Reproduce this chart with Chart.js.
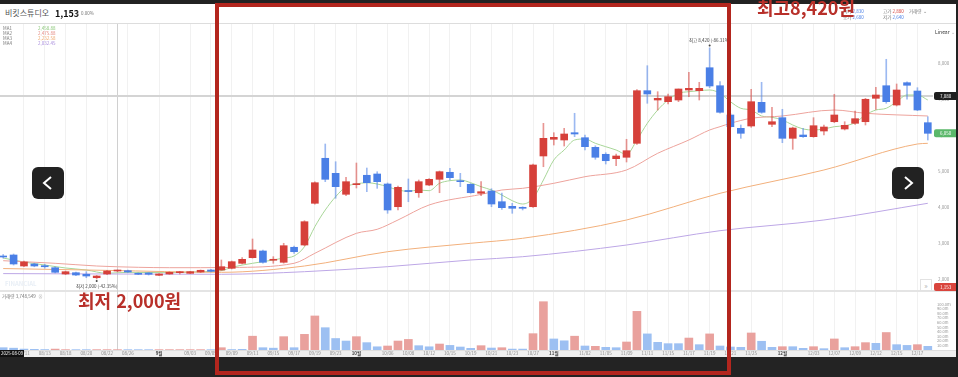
<!DOCTYPE html>
<html lang="ko">
<head>
<meta charset="utf-8">
<script src="https://cdn.jsdelivr.net/npm/chart.js@4.4.1/dist/chart.umd.min.js"></script>
<style>
  html, body { margin: 0; padding: 0; width: 958px; height: 377px; overflow: hidden; background: #fff;
    font-family: "Noto Sans CJK KR", "Noto Sans", sans-serif; }
  .abs { position: absolute; white-space: nowrap; }
  #topbar { left: 0; top: 0; width: 958px; height: 4px; background: #222; }
  #header { left: 0; top: 4px; width: 958px; height: 19px; background: #fff; border-bottom: 1px solid #ddd; }
  #chartWrap { position: absolute; left: -2px; top: 24px; }
  .tiny { font-size: 4.5px; line-height: 5px; color: #777; }
  .nav { position: absolute; width: 32px; height: 32px; background: #222; border-radius: 6px; z-index: 5; }
  #redBox { position: absolute; left: 215px; top: 3px; width: 516px; height: 372px; box-sizing: border-box;
    border: 4px solid #b3261e; z-index: 6; }
  .big { position: absolute; font-weight: bold; font-size: 18px; line-height: 18px; color: #b8302a; z-index: 7; white-space: nowrap; }
  #bottom { left: 0; top: 357px; width: 958px; height: 20px; background: #232323; z-index: 3; }
  #rightEdge { left: 956px; top: 0; width: 2px; height: 377px; background: #222; z-index: 3; }
</style>
</head>
<body>
<div id="topbar" class="abs"></div>
<div id="header" class="abs"></div>
<div class="abs" style="left:5px;top:8px;font-size:8px;line-height:10px;color:#555;z-index:2">비킷스튜디오</div>
<div class="abs" style="left:55px;top:8px;font-size:9px;line-height:11px;font-weight:bold;color:#111;z-index:2">1,153</div>
<div class="abs tiny" style="left:76px;top:11px;z-index:2">0&nbsp;&nbsp;0.00%</div>

<div class="abs tiny" style="left:843px;top:9px;z-index:2">시가 <span style="color:#4a7fe6">2,830</span></div>
<div class="abs tiny" style="left:883px;top:9px;z-index:2">고가 <span style="color:#d6403a">2,880</span></div>
<div class="abs tiny" style="left:909px;top:9px;z-index:2">거래량 ⌄</div>
<div class="abs tiny" style="left:843px;top:15px;z-index:2">종가 <span style="color:#4a7fe6">2,680</span></div>
<div class="abs tiny" style="left:883px;top:15px;z-index:2">저가 <span style="color:#4a7fe6">2,640</span></div>

<div id="chartWrap"><canvas id="myChart" width="960" height="333"></canvas></div>

<div class="abs tiny" style="left:3px;top:26px;z-index:2">MA1</div>
<div class="abs tiny" style="left:38px;top:26px;color:#8cc77a;z-index:2">2,458.88</div>
<div class="abs tiny" style="left:3px;top:31px;z-index:2">MA2</div>
<div class="abs tiny" style="left:38px;top:31px;color:#e58a82;z-index:2">2,475.88</div>
<div class="abs tiny" style="left:3px;top:36px;z-index:2">MA3</div>
<div class="abs tiny" style="left:38px;top:36px;color:#eea56a;z-index:2">2,232.58</div>
<div class="abs tiny" style="left:3px;top:41px;z-index:2">MA4</div>
<div class="abs tiny" style="left:38px;top:41px;color:#a78bdc;z-index:2">2,032.45</div>

<div class="abs" style="left:935px;top:29px;font-size:5px;line-height:6px;color:#333;z-index:2">Linear <span style="color:#aaa">⌄</span></div>
<div class="abs" style="left:5px;top:280px;font-size:6px;line-height:7px;font-weight:bold;color:#e9eff6;z-index:2">FINANCIAL</div>
<div class="abs tiny" style="left:2px;top:294px;z-index:2">거래량 3,748,549 &nbsp;<span style="color:#bbb">⊗</span></div>
<div class="abs" style="left:920px;top:279px;width:10px;height:10px;border:1px solid #e2e2e2;background:#fff;font-size:7px;line-height:10px;text-align:center;color:#aaa;z-index:2">»</div>

<div class="nav" style="left:32px;top:167px"><svg width="32" height="32"><polyline points="19,10 12,16 19,22" fill="none" stroke="#fff" stroke-width="2"/></svg></div>
<div class="nav" style="left:892px;top:167px"><svg width="32" height="32"><polyline points="13,10 20,16 13,22" fill="none" stroke="#fff" stroke-width="2"/></svg></div>

<div id="bottom" class="abs"></div>
<div id="rightEdge" class="abs"></div>
<div id="redBox"></div>
<div class="big" style="left:78px;top:291px">최저 2,000원</div>
<div class="big" style="left:757px;top:-2px">최고8,420원</div>

<script>
// 일봉 시가/고가/저가/종가 (원)
const opens = [
  2639, 2667, 2361, 2417, 2370, 2314, 2139, 2175, 2131, 2036,
  2139, 2222, 2231, 2158, 2167, 2103, 2139, 2175, 2158, 2194,
  2250, 2250, 2297, 2436, 2592, 2778, 2520, 2464, 2881, 2944,
  4103, 5353, 4936, 4353, 4620, 4881, 4917, 4639, 4008, 4450,
  4397, 4611, 4769, 4964, 4710, 4631, 4381, 4444, 4147, 4019,
  3970, 4008, 5417, 5881, 5861, 6064, 5925, 5658, 5464, 5342,
  5381, 5769, 7231, 6972, 6925, 6972, 7250, 7231, 7869, 7369,
  6556, 6186, 6250, 6908, 6297, 6481, 5908, 6000, 5953, 6111,
  6369, 6167, 6325, 6369, 7019, 7369, 6833, 7453, 7222, 6342
];
const highs = [
  2680, 2694, 2500, 2440, 2410, 2340, 2220, 2190, 2203, 2100,
  2240, 2250, 2250, 2170, 2180, 2150, 2200, 2214, 2214, 2250,
  2270, 2528, 2500, 2592, 3111, 2800, 2620, 2992, 2917, 3620,
  4700, 5750, 5258, 4825, 5222, 5083, 4980, 4667, 4583, 4778,
  4750, 4790, 5000, 5075, 4936, 4650, 4703, 4508, 4389, 4103,
  4008, 5190, 6325, 6064, 6186, 6603, 6000, 5700, 5508, 5472,
  5881, 7260, 7925, 7203, 7139, 7278, 7742, 7464, 8420, 7481,
  6600, 6278, 7269, 7464, 6769, 6714, 6220, 6186, 6481, 6278,
  7131, 6369, 6667, 7019, 7325, 8103, 7417, 7480, 7314, 6508
];
const lows = [
  2580, 2389, 2340, 2340, 2300, 2170, 2120, 2090, 2036, 2000,
  2120, 2200, 2180, 2120, 2110, 2090, 2130, 2139, 2150, 2180,
  2200, 2240, 2280, 2420, 2580, 2440, 2436, 2440, 2714, 2920,
  4080, 4703, 4242, 4314, 4528, 4425, 4519, 3825, 3917, 4147,
  4269, 4590, 4397, 4750, 4564, 4381, 4314, 4008, 3936, 3825,
  3917, 3990, 5119, 5722, 5694, 5953, 5583, 5325, 5194, 5147,
  5250, 5740, 6881, 6694, 6861, 6925, 7064, 6972, 7314, 6603,
  6200, 5908, 6214, 6603, 6231, 5786, 5603, 5936, 5936, 6000,
  6342, 6139, 6297, 6278, 6714, 6881, 6806, 6992, 6675, 5861
];
const closes = [
  2611, 2417, 2472, 2361, 2340, 2186, 2203, 2111, 2083, 2083,
  2222, 2236, 2194, 2131, 2131, 2139, 2186, 2180, 2203, 2242,
  2214, 2342, 2481, 2547, 2806, 2464, 2536, 2925, 2758, 3592,
  4675, 4769, 4564, 4703, 4640, 4675, 4703, 3917, 4547, 4430,
  4703, 4769, 4981, 4814, 4703, 4397, 4425, 4083, 3981, 3964,
  3964, 5167, 5908, 5936, 6028, 6028, 5675, 5381, 5286, 5417,
  5564, 7231, 7139, 7019, 7064, 7278, 7297, 7297, 7361, 6631,
  6231, 6047, 6925, 6631, 6369, 5908, 6194, 5953, 6258, 6222,
  6556, 6269, 6453, 6992, 7111, 6925, 7250, 7381, 6694, 6047
];

// 거래량 (백만 주), 막대 색: r = 빨강, b = 파랑
const volumes = [
  5, 4, 2, 1.5, 1, 2, 0.8, 0.8, 0.8, 0.8,
  0.8, 0.8, 0.8, 0.8, 0.8, 0.8, 0.8, 0.8, 0.8, 0.8,
  0.8, 5, 1, 1.5, 30, 5, 4, 29, 5, 34,
  74, 48.5, 25, 19.5, 29, 16, 7, 8.7, 19.5, 23,
  9.4, 7, 13, 10, 6.5, 3.6, 9.4, 4.3, 5, 2,
  2, 35.5, 105, 24, 20, 30, 8.7, 8, 5.8, 5,
  17.4, 84, 35, 16.7, 13.8, 13.8, 26, 11.6, 35, 8.7,
  6.5, 5.8, 37, 19, 5.8, 7.2, 7.2, 3.6, 7.2, 2.9,
  24, 5, 7.2, 16, 14.5, 38, 11.6, 10, 11.6, 8
];
const volumeSide =
  "bbbbbrrbbr" + "rrbbbrrrrr" + "brbbrbbrbr" + "rbbbrbbrrr" + "bbrbbbrbrb" +
  "brrbbrbrbb" + "rrbbbbrbrb" + "bbrbbrbbrb" + "rbrrbrbbrb";

// 이동평균선: [캔들 번호, 값]
const ma1Points = [
  [0, 2583], [2, 2472], [4, 2389], [6, 2306], [8, 2250], [10, 2158], [12, 2186], [16, 2175], [19, 2203],
  [21, 2231], [22, 2325], [24, 2436], [26, 2528], [27, 2583], [28, 2639], [29, 2897],
  [30, 3453], [31, 3917], [32, 4286], [33, 4564], [34, 4639], [35, 4675], [36, 4639], [37, 4564], [38, 4472], [39, 4436],
  [40, 4472], [41, 4453], [42, 4658], [43, 4731], [44, 4750], [45, 4675], [46, 4564], [47, 4472], [48, 4333], [49, 4175],
  [50, 4083], [51, 4242], [52, 4750], [53, 5306], [54, 5583], [55, 5861], [56, 5889], [57, 5769], [58, 5675], [59, 5583],
  [60, 5464], [61, 5861], [62, 6325], [63, 6694], [64, 6972], [65, 7158], [66, 7203], [67, 7231], [68, 7250], [69, 7158],
  [70, 6925], [71, 6742], [72, 6694], [73, 6528], [74, 6492], [75, 6417], [76, 6278], [77, 6167], [78, 6139], [79, 6167],
  [80, 6231], [81, 6258], [82, 6342], [83, 6556], [84, 6694], [85, 6742], [86, 6925], [87, 7111], [88, 7111], [89, 6972]
];
const ma2Points = [
  [0, 2508], [5, 2436], [9, 2361], [13, 2325], [16, 2314], [19, 2314], [22, 2320], [28, 2436], [30, 2714],
  [34, 3269], [36, 3381], [38, 3639], [41, 4056], [46, 4350], [48, 4472], [50, 4519], [53, 4658], [56, 4842],
  [60, 5028], [63, 5492], [66, 5861], [68, 6139], [69, 6231], [70, 6325], [72, 6464], [75, 6528], [80, 6694],
  [83, 6603], [89, 6528]
];
const ma3Points = [
  [0, 2290], [10, 2240], [21, 2186], [29, 2361], [37, 2758], [45, 2992], [50, 3131], [60, 3639],
  [69, 4381], [79, 5028], [88, 5750], [89, 5769]
];
const ma4Points = [
  [0, 2150], [10, 2139], [21, 2131], [29, 2203], [37, 2342], [45, 2528], [50, 2619], [60, 2944],
  [69, 3342], [79, 3639], [89, 4103]
];

// x축 날짜 라벨: [캔들 번호, 글자]
const xTicks = [
  [2, "08/11"], [4, "08/13"], [6, "08/18"], [8, "08/20"], [10, "08/22"], [12, "08/26"], [15, "9월"],
  [18, "09/03"], [20, "09/05"], [22, "09/09"], [24, "09/11"], [26, "09/15"], [28, "09/17"], [30, "09/19"],
  [32, "09/23"], [34, "10월"], [37, "10/06"], [39, "10/08"], [41, "10/12"], [43, "10/15"], [45, "10/19"],
  [47, "10/21"], [49, "10/23"], [51, "10/27"], [53, "11월"], [56, "11/02"], [58, "11/05"], [60, "11/09"],
  [62, "11/11"], [64, "11/15"], [66, "11/17"], [68, "11/19"], [70, "11/21"], [72, "11/25"], [75, "12월"],
  [78, "12/03"], [80, "12/07"], [82, "12/09"], [84, "12/12"], [86, "12/15"], [88, "12/17"]
];
const priceTicks = [2000, 3000, 4000, 5000, 6000, 7000, 8000];
const volumeTicks = [10, 20, 30, 40, 50, 60, 70, 80, 90, 100];

const crossIndex = 11;
const crossPrice = 7080;
const lastPrice = 6050;
const highIndex = 68;
const lowIndex = 9;

const RED = "#d6403a";
const BLUE = "#4a7fe6";

const labels = opens.map(() => "");
xTicks.forEach(([i, t]) => (labels[i] = t));

function toSeries(points) {
  const arr = opens.map(() => null);
  points.forEach(([i, v]) => (arr[i] = v));
  return arr;
}

const isUp = opens.map((o, i) => closes[i] >= o);
const fmt = (v) => v.toLocaleString("en-US");
const FONT = '"Noto Sans CJK KR", "Noto Sans", sans-serif';
Chart.defaults.font.family = FONT;

function tag(ctx, x, y, w, text, bg) {
  ctx.fillStyle = bg;
  ctx.beginPath();
  ctx.roundRect(x, y - 4, w, 8, 2);
  ctx.fill();
  ctx.fillStyle = "#fff";
  ctx.font = "4.5px " + FONT;
  ctx.textAlign = "left";
  ctx.textBaseline = "middle";
  ctx.fillText(text, x + 6, y + 0.5);
}

const overlay = {
  id: "overlay",
  beforeDraw(chart) {
    const { ctx, chartArea: a } = chart;
    ctx.save();
    ctx.fillStyle = "#efefef";
    ctx.fillRect(0, a.bottom, chart.width, chart.height - a.bottom);
    ctx.fillStyle = "#dedede";
    ctx.fillRect(0, a.bottom, chart.width, 1);
    ctx.restore();
  },
  beforeDatasetsDraw(chart) {
    const { ctx, chartArea: a, scales } = chart;
    ctx.save();
    // 가격/거래량 구분선
    ctx.fillStyle = "#e4e4e4";
    ctx.fillRect(0, a.top + 266, chart.width, 2);
    // 십자선
    const cx = Math.round(scales.x.getPixelForValue(crossIndex)) + 0.5;
    ctx.strokeStyle = "#d0d0d0";
    ctx.lineWidth = 1;
    ctx.beginPath();
    ctx.moveTo(cx, a.top);
    ctx.lineTo(cx, a.bottom);
    ctx.stroke();
    const cy = scales.y.getPixelForValue(crossPrice);
    ctx.strokeStyle = "#d4d4d4";
    ctx.lineWidth = 2;
    ctx.beginPath();
    ctx.moveTo(a.left, cy);
    ctx.lineTo(a.right, cy);
    ctx.stroke();
    ctx.restore();
  },
  afterDraw(chart) {
    const { ctx, chartArea: a, scales } = chart;
    ctx.save();
    ctx.font = "4px " + FONT;
    ctx.fillStyle = "#999";
    ctx.textAlign = "left";
    ctx.textBaseline = "middle";
    volumeTicks.forEach((v) => {
      ctx.fillText(v + ".0m", a.right + 4, scales.yv.getPixelForValue(v * 1e6));
    });

    // 최고/최저 표시
    ctx.font = "4.5px " + FONT;
    ctx.fillStyle = "#444";
    ctx.textAlign = "center";
    const hx = scales.x.getPixelForValue(highIndex);
    const hy = scales.y.getPixelForValue(highs[highIndex]);
    ctx.fillText("최고 " + fmt(highs[highIndex]) + " (-86.31%)", hx, hy - 8);
    ctx.beginPath();
    ctx.arc(hx, hy - 2.5, 1, 0, Math.PI * 2);
    ctx.fill();
    const lx = scales.x.getPixelForValue(lowIndex);
    const ly = scales.y.getPixelForValue(lows[lowIndex]);
    ctx.fillText("최저 " + fmt(lows[lowIndex]) + " (-42.35%)", lx, ly + 7);
    ctx.beginPath();
    ctx.arc(lx, ly + 2, 1, 0, Math.PI * 2);
    ctx.fill();

    // 오른쪽 가격 태그
    const tx = a.right + 1;
    const tw = chart.width - tx;
    tag(ctx, tx, scales.y.getPixelForValue(crossPrice), tw, fmt(crossPrice), "#1e1e1e");
    tag(ctx, tx, scales.y.getPixelForValue(lastPrice), tw, fmt(lastPrice), "#5bb86a");
    tag(ctx, tx, a.top + 263, tw, "1,153", "#d9443c");

    // 십자선 날짜
    ctx.fillStyle = "#111";
    ctx.fillRect(2, a.bottom, 24, chart.height - a.bottom);
    ctx.fillStyle = "#fff";
    ctx.font = "4.3px " + FONT;
    ctx.textAlign = "left";
    ctx.fillText("2025-08-09", 3, a.bottom + 3.5);
    ctx.restore();
  }
};

const maStyle = (color) => ({
  type: "line",
  borderColor: color,
  borderWidth: 1,
  pointRadius: 0,
  spanGaps: true,
  cubicInterpolationMode: "monotone",
  order: 2,
  yAxisID: "y"
});

new Chart(document.getElementById("myChart").getContext("2d"), {
  type: "bar",
  data: {
    labels: labels,
    datasets: [
      {
        label: "거래량",
        data: volumes.map((v) => v * 1e6),
        backgroundColor: volumes.map((_, i) => (volumeSide[i] === "r" ? "#e9a19d" : "#9dc0f2")),
        barThickness: 8,
        grouped: false,
        order: 4,
        yAxisID: "yv"
      },
      Object.assign(maStyle("#f2b07c"), { label: "MA3", data: toSeries(ma3Points) }),
      Object.assign(maStyle("#bda7e6"), { label: "MA4", data: toSeries(ma4Points) }),
      Object.assign(maStyle("#eda39c"), { label: "MA2", data: toSeries(ma2Points) }),
      Object.assign(maStyle("#a8d698"), { label: "MA1", data: toSeries(ma1Points) }),
      {
        label: "꼬리",
        data: lows.map((l, i) => [l, highs[i]]),
        backgroundColor: isUp.map((u) => (u ? "rgba(214,64,58,0.55)" : "rgba(74,127,230,0.55)")),
        barThickness: 1,
        grouped: false,
        order: 1,
        yAxisID: "y"
      },
      {
        label: "몸통",
        data: opens.map((o, i) => [o, closes[i]]),
        backgroundColor: isUp.map((u) => (u ? RED : BLUE)),
        barThickness: 7,
        minBarLength: 1,
        grouped: false,
        order: 0,
        yAxisID: "y"
      }
    ]
  },
  options: {
    responsive: false,
    animation: false,
    devicePixelRatio: 1,
    layout: { padding: 0 },
    plugins: { legend: { display: false }, tooltip: { enabled: false } },
    scales: {
      x: {
        offset: true,
        border: { display: false },
        grid: {
          offset: false,
          drawTicks: false,
          color: (c) => (labels[c.index] ? "#f1f1f1" : "rgba(0,0,0,0)")
        },
        ticks: {
          autoSkip: false,
          maxRotation: 0,
          minRotation: 0,
          padding: 1,
          color: (c) => (labels[c.index] && labels[c.index].includes("월") ? "#444" : "#8a8a8a"),
          font: (c) => ({
            size: 4.5,
            weight: labels[c.index] && labels[c.index].includes("월") ? "bold" : "normal"
          }),
          callback: (v) => labels[v]
        },
        afterFit(s) {
          s.height = 7;
          s.paddingLeft = 0;
          s.paddingRight = 0;
        }
      },
      y: {
        position: "right",
        min: 27.78,
        max: 9083.33,
        border: { display: false },
        grid: { display: false, drawTicks: false },
        afterBuildTicks(s) {
          s.ticks = priceTicks.map((v) => ({ value: v }));
        },
        ticks: { padding: 5, color: "#999", font: { size: 4.5 }, callback: (v) => fmt(v) },
        afterFit(s) {
          s.width = 25;
          s.paddingTop = 0;
          s.paddingBottom = 0;
        }
      },
      yv: { display: false, min: 0, max: 708.7e6 }
    }
  },
  plugins: [overlay]
});
</script>
</body>
</html>
